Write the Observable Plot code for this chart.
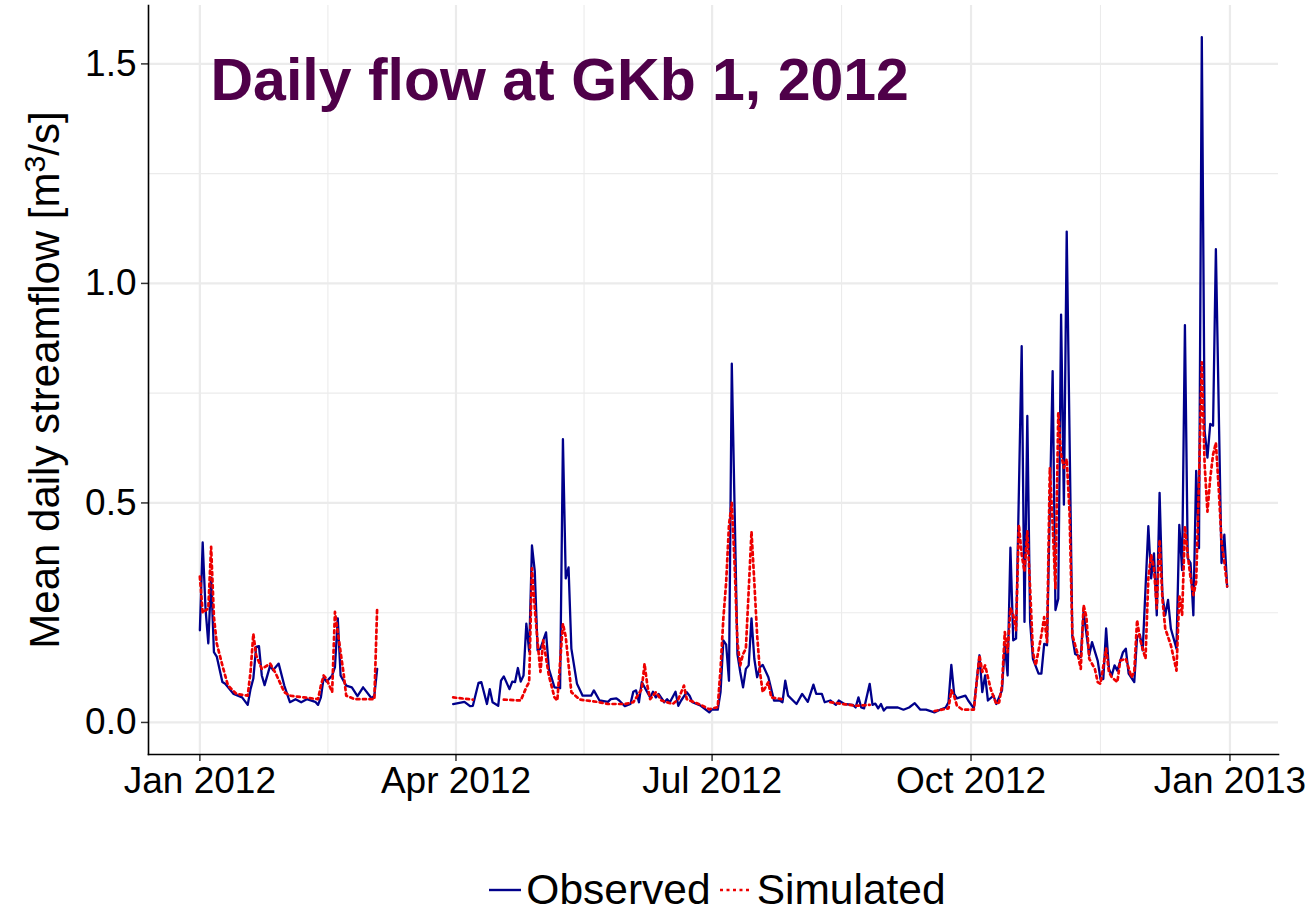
<!DOCTYPE html>
<html>
<head>
<meta charset="utf-8">
<script src="https://cdn.jsdelivr.net/npm/d3@7"></script>
<script src="https://cdn.jsdelivr.net/npm/@observablehq/plot@0.6"></script>
<style>
  body { margin: 0; background: #fff; font-family: "Liberation Sans", Arial, Helvetica, sans-serif; }
  #chart svg { display: block; }
  #legend {
    width: 1314px; height: 74px; box-sizing: border-box;
    padding: 26px 36px 0 164px;
    display: flex; justify-content: center; align-items: center;
    font-size: 42.5px; color: #000;
  }
  #legend .item { display: flex; align-items: center; }
  #legend .item span { margin-left: 4px; margin-right: 8px; line-height: 44px; }
</style>
</head>
<body>
<div id="chart"></div>
<div id="legend"></div>
<script>
// Daily mean streamflow at gauge GKb 1, 2012 — [day of year (0 = 1 Jan), m³/s]
const observed = [
  [0,0.21],[1,0.41],[2,0.26],[3,0.18],[4,0.33],[5,0.16],[6,0.15],[8,0.092],[9,0.088],[12,0.065],
  [15,0.057],[17,0.04],[18,0.076],[19,0.10],[20,0.172],[21,0.174],[22,0.107],[23,0.085],[25,0.13],
  [26,0.119],[28,0.134],[30,0.084],[32,0.046],[34,0.053],[36,0.046],[38,0.053],[41,0.047],[42,0.04],
  [43,0.057],[44,0.103],[45,0.093],[47,0.107],[48,0.126],[49,0.237],[50,0.107],[52,0.084],[54,0.08],
  [56,0.06],[58,0.08],[61,0.055],[62,0.061],[63,0.122],
  [90,0.042],[94,0.047],[96,0.037],[97,0.038],[99,0.09],[100,0.092],[102,0.042],[103,0.076],[104,0.046],
  [106,0.038],[107,0.095],[108,0.105],[110,0.076],[111,0.093],[112,0.092],[113,0.124],[114,0.093],
  [115,0.107],[116,0.225],[117,0.162],[118,0.403],[119,0.344],[120,0.164],[121,0.168],[123,0.205],
  [124,0.122],[126,0.08],[128,0.078],[129,0.645],[130,0.328],[131,0.353],[132,0.168],[134,0.088],
  [136,0.061],[139,0.061],[140,0.073],[142,0.05],[145,0.047],[146,0.053],[148,0.055],[149,0.05],
  [151,0.037],[153,0.042],[154,0.07],[155,0.073],[156,0.046],[157,0.092],[158,0.08],[160,0.057],
  [161,0.07],[162,0.057],[163,0.065],[165,0.046],[166,0.053],[167,0.046],[169,0.07],[170,0.038],
  [171,0.05],[173,0.069],[174,0.061],[175,0.046],[178,0.038],[181,0.023],[182,0.03],[184,0.029],
  [185,0.069],[186,0.187],[187,0.177],[188,0.095],[189,0.817],[191,0.156],[192,0.115],[193,0.08],
  [194,0.122],[195,0.13],[196,0.237],[197,0.145],[198,0.103],[199,0.126],[200,0.131],[202,0.103],
  [204,0.05],[206,0.05],[207,0.046],[208,0.095],[209,0.061],[212,0.042],[214,0.065],[216,0.047],
  [218,0.086],[219,0.065],[221,0.065],[222,0.046],[224,0.05],[226,0.04],[227,0.05],[229,0.042],
  [232,0.04],[233,0.034],[234,0.057],[235,0.034],[236,0.032],[238,0.088],[239,0.04],[240,0.043],
  [241,0.032],[242,0.042],[243,0.027],[244,0.034],[248,0.034],[250,0.029],[252,0.034],[254,0.044],
  [256,0.029],[258,0.029],[261,0.023],[263,0.029],[265,0.034],[266,0.046],[267,0.131],[268,0.065],
  [269,0.055],[270,0.057],[272,0.061],[273,0.05],[275,0.032],[277,0.153],[278,0.069],[279,0.107],
  [280,0.05],[282,0.061],[283,0.042],[285,0.073],[286,0.179],[287,0.107],[288,0.398],[289,0.187],
  [290,0.191],[292,0.857],[293,0.229],[294,0.698],[295,0.229],[296,0.145],[298,0.111],[299,0.111],
  [300,0.179],[301,0.176],[303,0.80],[304,0.256],[305,0.282],[306,0.929],[307,0.496],[308,1.118],
  [310,0.195],[311,0.156],[313,0.149],[314,0.252],[316,0.153],[317,0.183],[319,0.141],[320,0.099],
  [321,0.099],[322,0.214],[323,0.122],[324,0.107],[325,0.13],[326,0.118],[328,0.16],[329,0.168],
  [330,0.111],[332,0.092],[333,0.195],[334,0.20],[335,0.164],[337,0.447],[338,0.328],[339,0.385],
  [340,0.244],[341,0.523],[342,0.29],[343,0.244],[344,0.279],[345,0.214],[347,0.168],[348,0.45],
  [349,0.347],[350,0.905],[351,0.374],[352,0.363],[353,0.244],[354,0.573],[355,0.397],[356,1.561],
  [357,0.664],[358,0.603],[359,0.68],[360,0.676],[361,1.078],[363,0.363],[364,0.428],[365,0.309]
];

const simulated = [
  [0,0.332],[1,0.25],[3,0.26],[4,0.40],[5,0.24],[6,0.18],[8,0.13],[10,0.084],[13,0.065],[17,0.061],
  [18,0.115],[19,0.202],[20,0.153],[22,0.122],[23,0.126],[25,0.134],[27,0.111],[30,0.069],[32,0.061],
  [37,0.057],[42,0.053],[43,0.084],[44,0.107],[45,0.099],[47,0.069],[48,0.252],[49,0.206],[51,0.115],
  [52,0.061],[55,0.053],[62,0.053],[63,0.263],
  [90,0.057],[97,0.052],[108,0.052],[114,0.05],[116,0.08],[117,0.092],[118,0.351],[119,0.26],
  [120,0.183],[121,0.115],[122,0.187],[124,0.107],[126,0.057],[127,0.05],[129,0.225],[130,0.195],
  [132,0.069],[135,0.052],[141,0.047],[145,0.042],[151,0.042],[154,0.046],[157,0.076],[158,0.134],
  [159,0.084],[160,0.053],[162,0.069],[164,0.05],[168,0.042],[170,0.053],[172,0.084],[173,0.053],
  [178,0.04],[181,0.03],[184,0.035],[185,0.122],[186,0.237],[187,0.32],[188,0.45],[189,0.50],
  [190,0.36],[191,0.183],[192,0.13],[193,0.156],[194,0.168],[195,0.30],[196,0.435],[197,0.32],
  [198,0.199],[199,0.115],[200,0.069],[202,0.092],[203,0.057],[207,0.053],[224,0.046],[233,0.038],
  [238,0.04],[250,0.032],[261,0.026],[266,0.032],[267,0.073],[268,0.06],[269,0.038],[271,0.029],
  [275,0.029],[277,0.153],[278,0.115],[279,0.13],[281,0.076],[283,0.042],[284,0.046],[285,0.084],
  [286,0.206],[287,0.16],[288,0.26],[289,0.245],[290,0.21],[291,0.45],[292,0.382],[293,0.344],
  [294,0.435],[295,0.305],[296,0.16],[297,0.13],[299,0.199],[300,0.24],[301,0.183],[302,0.58],
  [303,0.45],[304,0.305],[305,0.706],[306,0.61],[307,0.58],[308,0.60],[309,0.48],[310,0.199],
  [312,0.153],[313,0.122],[314,0.267],[315,0.24],[316,0.145],[318,0.122],[319,0.092],[320,0.088],
  [322,0.168],[323,0.115],[324,0.103],[326,0.092],[327,0.141],[329,0.145],[331,0.103],[332,0.115],
  [333,0.233],[334,0.191],[336,0.145],[337,0.328],[338,0.382],[339,0.351],[340,0.26],[341,0.416],
  [342,0.282],[343,0.214],[345,0.176],[347,0.118],[348,0.29],[349,0.244],[350,0.447],[351,0.382],
  [352,0.33],[353,0.29],[354,0.32],[355,0.55],[356,0.82],[357,0.588],[358,0.48],[359,0.557],
  [360,0.61],[361,0.637],[362,0.534],[363,0.412],[364,0.366],[365,0.31]
];

const xBreaks = ["2012-01-01", "2012-04-01", "2012-07-01", "2012-10-01", "2013-01-01"];
const xLabels = ["Jan 2012", "Apr 2012", "Jul 2012", "Oct 2012", "Jan 2013"];
const yBreaks = [0, 0.5, 1.0, 1.5];
const yMinor = [0.25, 0.75, 1.25];
const seriesNames = ["Observed", "Simulated"];
const seriesColors = ["#00008b", "#ee0000"];
const titleText = "Daily flow at GKb 1, 2012";
// axis title: text before the superscript, the superscript, text after it
const yTitleParts = ["Mean daily streamflow [m", "3", "/s]"];

const T0 = Date.UTC(2012, 0, 1);
const DAY = 864e5;
const toDate = d => new Date(T0 + d * DAY);

// Turn [day, value] pairs into rows; a NaN row breaks the line across the data gap in March.
function toRows(pairs) {
  const out = [];
  pairs.forEach(([d, v], i) => {
    if (i > 0 && d - pairs[i - 1][0] > 10) out.push({date: toDate((d + pairs[i - 1][0]) / 2), flow: NaN});
    out.push({date: toDate(d), flow: v});
  });
  return out;
}
const obsRows = toRows(observed);
const simRows = toRows(simulated);

const majorX = xBreaks.map(s => new Date(s + "T00:00:00Z"));
const minorX = d3.pairs(majorX).map(([a, b]) => new Date((+a + +b) / 2));

const font = "'Liberation Sans', Arial, Helvetica, sans-serif";
const grid = "#ebebeb";

const chart = Plot.plot({
  width: 1314,
  height: 840,
  marginLeft: 148,
  marginRight: 36,
  marginTop: 5,
  marginBottom: 86,
  style: {fontFamily: font, background: "#fff", color: "#000"},
  x: {type: "utc", domain: [toDate(-18.25), toDate(383.25)]},
  y: {domain: [-0.073, 1.633]},
  marks: [
    Plot.ruleX(minorX, {stroke: grid, strokeWidth: 1.1}),
    Plot.ruleY(yMinor, {stroke: grid, strokeWidth: 1.1}),
    Plot.ruleX(majorX, {stroke: grid, strokeWidth: 2.2}),
    Plot.ruleY(yBreaks, {stroke: grid, strokeWidth: 2.2}),
    Plot.line(obsRows, {x: "date", y: "flow", stroke: seriesColors[0], strokeWidth: 2.3}),
    Plot.line(simRows, {x: "date", y: "flow", stroke: seriesColors[1], strokeWidth: 2.7, strokeDasharray: "3,3.5"}),
    Plot.axisX(majorX, {
      tickFormat: (d, i) => xLabels[i], fontSize: 37, tickSize: 7, tickPadding: 5,
      stroke: "#333", fill: "#000", strokeWidth: 1.5, label: null
    }),
    Plot.axisY(yBreaks, {
      tickFormat: d3.format(".1f"), fontSize: 37, tickSize: 7, tickPadding: 5,
      stroke: "#333", fill: "#000", strokeWidth: 1.5, label: null
    }),
    Plot.frame({anchor: "left", stroke: "#000", strokeWidth: 1.6}),
    Plot.frame({anchor: "bottom", stroke: "#000", strokeWidth: 1.6}),
    Plot.text([yTitleParts.join("")], {
      text: d => d, frameAnchor: "left", rotate: -90, dx: -103,
      fontSize: 42, fill: "#000", textAnchor: "middle", lineAnchor: "middle",
      className: "y-title"
    }),
    Plot.text([titleText], {
      text: d => d, frameAnchor: "top-left", dx: 62, dy: 53, lineAnchor: "top",
      textAnchor: "start", fontSize: 59, fontWeight: "bold", fill: "#4f0049"
    })
  ]
});
document.getElementById("chart").append(chart);

// Typeset the unit's exponent as a raised, smaller "3"
d3.select(chart).selectAll(".y-title text").each(function() {
  const t = d3.select(this).text("");
  t.append("tspan").text(yTitleParts[0]);
  t.append("tspan").attr("dy", "-0.45em").attr("font-size", "0.72em").text(yTitleParts[1]);
  t.append("tspan").attr("dy", "0.324em").text(yTitleParts[2]);
});

// Legend below the panel
const legend = d3.select("#legend");
seriesNames.forEach((name, i) => {
  const item = legend.append("div").attr("class", "item");
  const key = item.append("svg").attr("width", 34).attr("height", 20);
  key.append("line")
    .attr("x1", 1).attr("x2", 33).attr("y1", 10).attr("y2", 10)
    .attr("stroke", seriesColors[i])
    .attr("stroke-width", i === 0 ? 2.4 : 2.7)
    .attr("stroke-dasharray", i === 0 ? null : "3,3.5");
  item.append("span").text(name);
});
</script>
</body>
</html>
